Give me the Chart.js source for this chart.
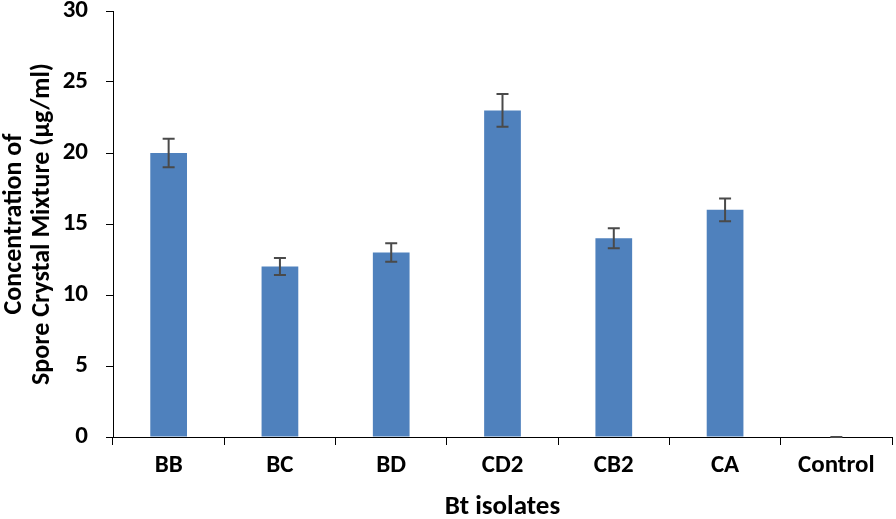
<!DOCTYPE html>
<html>
<head>
<meta charset="utf-8">
<script src="https://cdn.jsdelivr.net/npm/chart.js@4/dist/chart.umd.min.js"></script>
<style>
  html, body { margin: 0; padding: 0; background: #fff; }
  #wrap { width: 896px; height: 519px; position: relative; }
</style>
</head>
<body>
<div id="wrap"><canvas id="spore-chart"></canvas></div>
<script>
const isolates = ["BB", "BC", "BD", "CD2", "CB2", "CA", "Control"]
const concentration = [20, 12, 13, 23, 14, 16, 0]
const std_error = [1.0, 0.6, 0.65, 1.15, 0.7, 0.8, 0]
const y_ticks = [0, 5, 10, 15, 20, 25, 30]

const bar_blue = "#4f81bd"
const err_grey = "#4a4a4a"
const font_family = "Carlito, 'Liberation Sans Narrow', 'Open Sans', sans-serif"

// draw the +/- error bars on top of the bars
const errorBars = {
    id: 'errorBars',
    afterDatasetsDraw(chart) {
        const ctx = chart.ctx
        const y = chart.scales.y
        const meta = chart.getDatasetMeta(0)
        ctx.save()
        ctx.strokeStyle = err_grey
        ctx.lineWidth = 2
        meta.data.forEach((bar, i) => {
            const top = y.getPixelForValue(concentration[i] + std_error[i])
            const bottom = y.getPixelForValue(concentration[i] - std_error[i])
            const cap = 6
            ctx.beginPath()
            ctx.moveTo(bar.x, top)
            ctx.lineTo(bar.x, bottom)
            ctx.moveTo(bar.x - cap, top)
            ctx.lineTo(bar.x + cap, top)
            ctx.moveTo(bar.x - cap, bottom)
            ctx.lineTo(bar.x + cap, bottom)
            ctx.stroke()
        })
        ctx.restore()
    }
}

new Chart(document.getElementById('spore-chart'), {
    type: "bar",
    data: {
        labels: isolates,
        datasets: [{
            data: concentration,
            backgroundColor: bar_blue,
            borderWidth: 0,
            barPercentage: 0.33,
            categoryPercentage: 1.0,
        }]
    },
    options: {
        responsive: true,
        maintainAspectRatio: false,
        animation: false,
        layout: {
            padding: { top: 11, right: 4, left: 0, bottom: 0 }
        },
        plugins: {
            legend: { display: false },
            tooltip: { enabled: false },
        },
        scales: {
            x: {
                afterFit: (axis) => { axis.height = 82 },
                grid: {
                    drawOnChartArea: false,
                    drawTicks: true,
                    tickLength: 8,
                    color: "#000",
                },
                border: { color: "#000", width: 1 },
                ticks: {
                    color: "#000",
                    padding: 6,
                    font: { family: font_family, size: 25, weight: "bold" },
                },
                title: {
                    display: true,
                    text: "Bt isolates",
                    color: "#000",
                    padding: { top: 10, bottom: 0 },
                    font: { family: font_family, size: 27, weight: "bold", lineHeight: 0.9 },
                },
            },
            y: {
                min: 0,
                max: 30,
                afterFit: (axis) => {
                    axis.width = 113
                    axis.paddingTop = 0
                    axis.paddingBottom = 0
                },
                afterBuildTicks: (axis) => {
                    axis.ticks = y_ticks.map((v) => ({ value: v }))
                },
                grid: {
                    drawOnChartArea: false,
                    drawTicks: true,
                    tickLength: 7,
                    color: "#000",
                },
                border: { color: "#000", width: 1 },
                ticks: {
                    color: "#000",
                    padding: 18,
                    font: { family: font_family, size: 25, weight: "bold" },
                },
                title: {
                    display: true,
                    text: ["Concentration of", "Spore Crystal Mixture (\u00b5g/ml)"],
                    color: "#000",
                    padding: { top: 0, bottom: 7 },
                    font: { family: font_family, size: 26, weight: "bold", lineHeight: 1.08 },
                },
            }
        }
    },
    plugins: [errorBars]
});
</script>
</body>
</html>
